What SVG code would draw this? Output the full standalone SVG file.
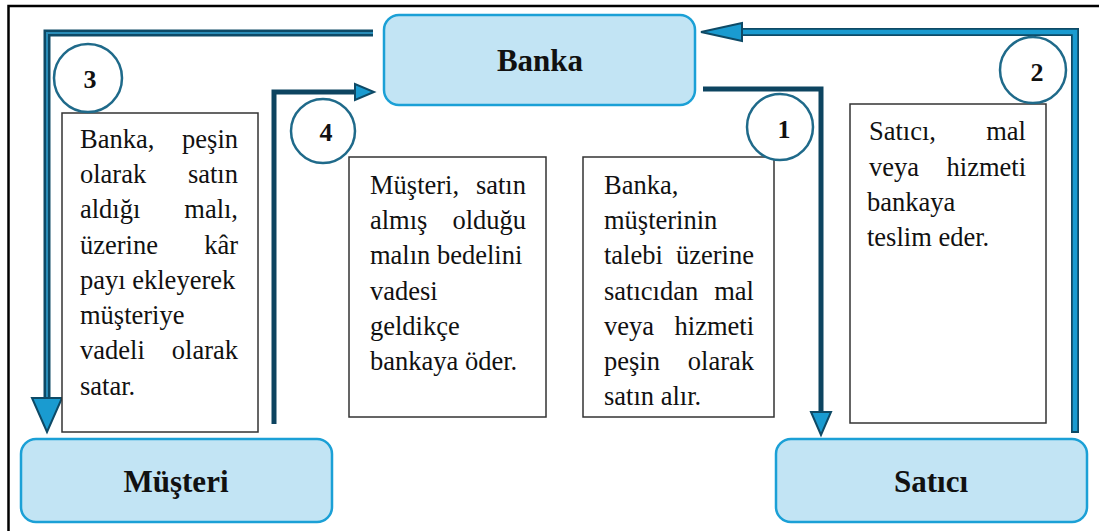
<svg xmlns="http://www.w3.org/2000/svg" width="1099" height="531" viewBox="0 0 1099 531">
<style>
.node{fill:#c2e4f4;stroke:#1ba0d6;stroke-width:2.5}
.title{font-family:"Liberation Serif","Times New Roman",Tinos,"DejaVu Serif",serif;font-weight:bold;font-size:31px;text-anchor:middle;fill:#111}
.tbox{fill:#fff;stroke:#333;stroke-width:1.5}
.t{font-family:"Liberation Serif","Times New Roman",Tinos,"DejaVu Serif",serif;font-weight:normal;font-size:26.5px;fill:#111}
.r{text-anchor:end}
.circ{fill:#fff;stroke:#1f6a8a;stroke-width:2.5}
.num{font-family:"Liberation Serif","Times New Roman",Tinos,"DejaVu Serif",serif;font-weight:bold;font-size:26px;text-anchor:middle;fill:#111}
.dark{fill:none;stroke:#0d4460;stroke-width:5}
.hollowO{fill:none;stroke:#0e4a66;stroke-width:7}
.hollowI{fill:none;stroke:#2a8db8;stroke-width:2}
.blueO{fill:none;stroke:#0e4a66;stroke-width:8}
.blueI{fill:none;stroke:#1a9bd0;stroke-width:4.5}
.head{fill:#1a9bd0;stroke:#0e4a66;stroke-width:2;stroke-linejoin:miter}
</style>
<rect width="1099" height="531" fill="#fff"/>
<path d="M8.5,531 V6 H1099" fill="none" stroke="#000" stroke-width="2.5"/>

<g id="connectors">
  <path class="hollowO" d="M373,33 H47 V398"/>
  <path class="hollowI" d="M373,33 H47 V398"/>
  <polygon class="head" points="32,398 62,398 47,432"/>
  <path class="blueO" d="M1075,433 V32 H742"/>
  <path class="blueI" d="M1075,431 V32 H742"/>
  <polygon class="head" points="742,23 742,41 701,32"/>
  <path class="dark" d="M703,89 H821 V412"/>
  <polygon class="head" points="811,412 831,412 821,435"/>
  <path class="dark" d="M274,424 V92 H355"/>
  <polygon class="head" points="355,84 355,100 374,92"/>
</g>

<g id="banka">
  <rect class="node" x="384" y="15" width="311" height="90" rx="15"/>
  <text class="title" x="540" y="71">Banka</text>
</g>
<g id="musteri">
  <rect class="node" x="21" y="439" width="311" height="83" rx="15"/>
  <text class="title" x="176" y="492">Müşteri</text>
</g>
<g id="satici">
  <rect class="node" x="776" y="439" width="311" height="83" rx="15"/>
  <text class="title" x="931" y="492">Satıcı</text>
</g>

<g id="box3">
  <rect class="tbox" x="62" y="113" width="196" height="319"/>
  <text class="t" x="80" y="148">Banka,</text><text class="t r" x="238" y="148">peşin</text>
  <text class="t" x="80" y="183">olarak</text><text class="t r" x="238" y="183">satın</text>
  <text class="t" x="80" y="218">aldığı</text><text class="t r" x="238" y="218">malı,</text>
  <text class="t" x="80" y="254">üzerine</text><text class="t r" x="238" y="254">kâr</text>
  <text class="t" x="80" y="289">payı ekleyerek</text>
  <text class="t" x="80" y="324">müşteriye</text>
  <text class="t" x="80" y="359">vadeli</text><text class="t r" x="238" y="359">olarak</text>
  <text class="t" x="80" y="395">satar.</text>
</g>
<g id="box4">
  <rect class="tbox" x="349" y="157" width="197" height="260"/>
  <text class="t" x="370" y="194">Müşteri,</text><text class="t r" x="526" y="194">satın</text>
  <text class="t" x="370" y="229">almış</text><text class="t r" x="526" y="229">olduğu</text>
  <text class="t" x="370" y="264">malın bedelini</text>
  <text class="t" x="370" y="300">vadesi</text>
  <text class="t" x="370" y="335">geldikçe</text>
  <text class="t" x="370" y="370">bankaya öder.</text>
</g>
<g id="box1">
  <rect class="tbox" x="583" y="157" width="191" height="260"/>
  <text class="t" x="604" y="194">Banka,</text>
  <text class="t" x="604" y="229">müşterinin</text>
  <text class="t" x="604" y="264">talebi</text><text class="t r" x="754" y="264">üzerine</text>
  <text class="t" x="604" y="300">satıcıdan</text><text class="t r" x="754" y="300">mal</text>
  <text class="t" x="604" y="335">veya</text><text class="t r" x="754" y="335">hizmeti</text>
  <text class="t" x="604" y="370">peşin</text><text class="t r" x="754" y="370">olarak</text>
  <text class="t" x="604" y="405">satın alır.</text>
</g>
<g id="box2">
  <rect class="tbox" x="850" y="104" width="196" height="319"/>
  <text class="t" x="869" y="140">Satıcı,</text><text class="t r" x="1026" y="140">mal</text>
  <text class="t" x="869" y="176">veya</text><text class="t r" x="1026" y="176">hizmeti</text>
  <text class="t" x="867" y="211">bankaya</text>
  <text class="t" x="867" y="246">teslim eder.</text>
</g>

<g id="c3"><circle class="circ" cx="88" cy="78" r="34"/><text class="num" x="90" y="88">3</text></g>
<g id="c4"><circle class="circ" cx="323" cy="131" r="32"/><text class="num" x="326" y="141">4</text></g>
<g id="c1"><circle class="circ" cx="780" cy="127" r="33"/><text class="num" x="784" y="138">1</text></g>
<g id="c2"><circle class="circ" cx="1033" cy="70" r="33"/><text class="num" x="1037" y="81">2</text></g>
</svg>
